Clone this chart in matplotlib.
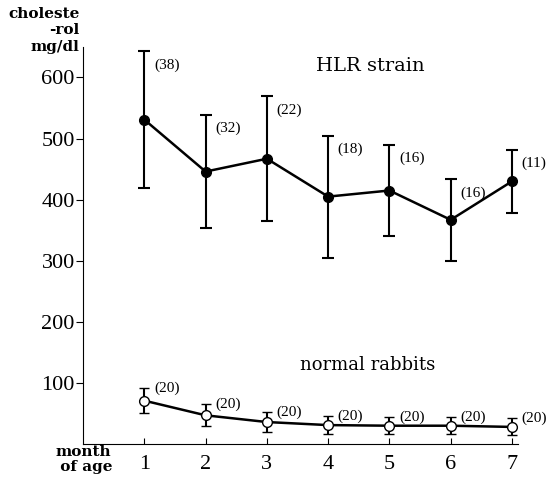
import numpy as np
import matplotlib.pyplot as plt

plt.rcParams['font.family'] = ['Liberation Serif', 'DejaVu Serif']

months = [1, 2, 3, 4, 5, 6, 7]

# HLR strain: mean and SD, (n)
hlr_mean = [531, 446, 467, 405, 415, 367, 430]
hlr_sd = [112, 93, 102, 100, 75, 67, 52]
hlr_n = [38, 32, 22, 18, 16, 16, 11]

# normal rabbits
nor_mean = [71, 47, 36, 31, 30, 30, 28]
nor_sd = [20, 18, 16, 15, 14, 14, 14]
nor_n = [20, 20, 20, 20, 20, 20, 20]

fig = plt.figure(figsize=(5.5, 4.79), dpi=100)
ax = fig.add_axes([0.151, 0.073, 0.791, 0.829])

ax.errorbar(months, hlr_mean, yerr=hlr_sd, color='black', lw=1.8,
            marker='o', ms=7, mfc='black', mec='black',
            elinewidth=1.5, capsize=4, capthick=1.5)
ax.errorbar(months, nor_mean, yerr=nor_sd, color='black', lw=1.8,
            marker='o', ms=7, mfc='white', mec='black', mew=1.0,
            elinewidth=1.5, capsize=3.5, capthick=1.5, zorder=3)

for x, m, s, n in zip(months, hlr_mean, hlr_sd, hlr_n):
    ax.annotate('(%d)' % n, (x, m + s), xytext=(7, -10), textcoords='offset points',
                fontsize=11, ha='left', va='center', fontstretch='condensed')
for x, m, s, n in zip(months, nor_mean, nor_sd, nor_n):
    ax.annotate('(%d)' % n, (x, m + s), xytext=(7, 0), textcoords='offset points',
                fontsize=11, ha='left', va='center', fontstretch='condensed')

ax.text(4.68, 618, 'HLR strain', fontsize=14, ha='center', va='center',
        family='DejaVu Serif')
ax.text(4.65, 130, 'normal rabbits', fontsize=13, ha='center', va='center',
        family='DejaVu Serif')

ax.set_xlim(0, 7.1)
ax.set_ylim(0, 650)
ax.set_xticks(months)
ax.set_yticks([100, 200, 300, 400, 500, 600])
ax.tick_params(axis='x', direction='in', length=4, labelsize=16, pad=8)
ax.tick_params(axis='y', direction='out', length=5, labelsize=16, pad=1)
ax.spines['top'].set_visible(False)
ax.spines['right'].set_visible(False)

fig.text(0.145, 0.985, 'choleste\n-rol\nmg/dl', ha='right', va='top',
         fontsize=11, family='DejaVu Serif', fontweight='bold', linespacing=1.2)
fig.text(0.1, 0.07, 'month\n of age', ha='left', va='top',
         fontsize=11, family='DejaVu Serif', fontweight='bold', linespacing=1.05)

fig.savefig('out.png', dpi=100)
